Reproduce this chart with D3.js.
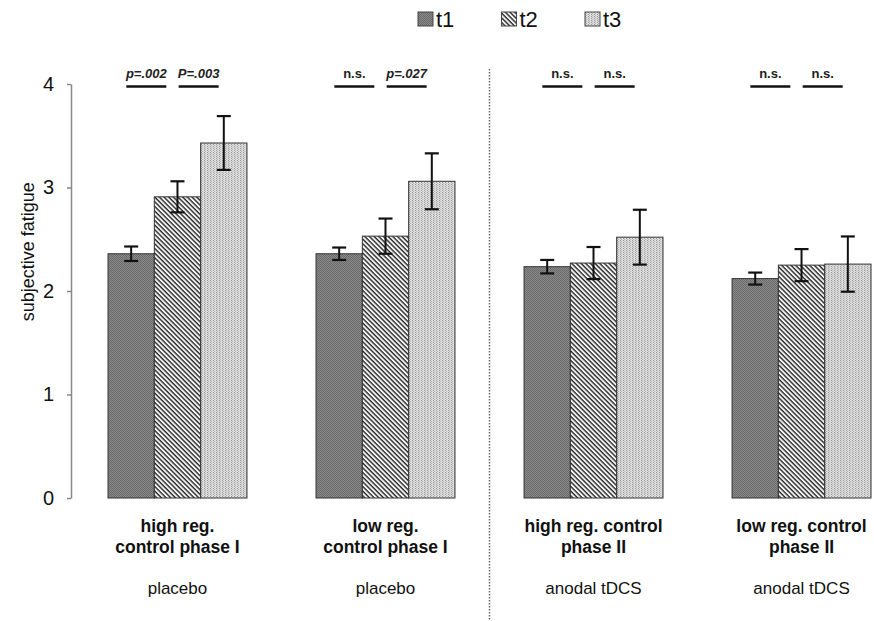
<!DOCTYPE html>
<html>
<head>
<meta charset="utf-8">
<script src="https://cdn.jsdelivr.net/npm/d3@7"></script>
<style>
  body { margin: 0; background: #fff; }
  text { font-family: "Liberation Sans", Arial, sans-serif; }
</style>
</head>
<body>
<script>
const groups = ["g1", "g2", "g3", "g4"];
const groupLines = [["high reg.", "control phase I"], ["low reg.", "control phase I"],
                    ["high reg. control", "phase II"], ["low reg. control", "phase II"]];
const conditions = ["placebo", "placebo", "anodal tDCS", "anodal tDCS"];
const times = ["t1", "t2", "t3"];
const means = [[2.36, 2.91, 3.43], [2.36, 2.53, 3.06], [2.235, 2.27, 2.52], [2.12, 2.25, 2.26]];
const errs = [[0.07, 0.15, 0.26], [0.06, 0.17, 0.27], [0.065, 0.155, 0.265], [0.058, 0.155, 0.267]];
const sigLabels = [["p=.002", "P=.003"], ["n.s.", "p=.027"], ["n.s.", "n.s."], ["n.s.", "n.s."]];
const yTicks = [0, 1, 2, 3, 4];

function main() {
  const width = 874, height = 621;
  const svg = d3.select("body").append("svg")
    .attr("width", width).attr("height", height);

  const y = d3.scaleLinear().domain([0, 4]).range([498, 84]);
  const x0 = d3.scaleBand().domain(groups).range([108, 871]).paddingInner(0.332);
  const x1 = d3.scaleBand().domain(times).range([0, x0.bandwidth()]);

  // patterns
  const defs = svg.append("defs");
  const p1 = defs.append("pattern").attr("id", "pat-t1").attr("patternUnits", "userSpaceOnUse")
    .attr("width", 2).attr("height", 2);
  p1.append("rect").attr("width", 2).attr("height", 2).attr("fill", "#8a8a8a");
  p1.append("rect").attr("width", 1).attr("height", 1).attr("fill", "#6a6a6a");
  p1.append("rect").attr("x", 1).attr("y", 1).attr("width", 1).attr("height", 1).attr("fill", "#6a6a6a");

  const p2 = defs.append("pattern").attr("id", "pat-t2").attr("patternUnits", "userSpaceOnUse")
    .attr("width", 3.3).attr("height", 3.3).attr("patternTransform", "rotate(45)");
  p2.append("rect").attr("width", 3.3).attr("height", 3.3).attr("fill", "#f4f4f4");
  p2.append("rect").attr("width", 3.3).attr("height", 1.4).attr("fill", "#2a2a2a");

  const p3 = defs.append("pattern").attr("id", "pat-t3").attr("patternUnits", "userSpaceOnUse")
    .attr("width", 3).attr("height", 2);
  p3.append("rect").attr("width", 3).attr("height", 2).attr("fill", "#dcdcdc");
  p3.append("rect").attr("width", 1).attr("height", 1).attr("fill", "#9a9a9a");
  p3.append("rect").attr("x", 1).attr("y", 1).attr("width", 1).attr("height", 1).attr("fill", "#b8b8b8");

  const fills = {t1: "url(#pat-t1)", t2: "url(#pat-t2)", t3: "url(#pat-t3)"};

  // y axis
  const yAxis = svg.append("g").attr("transform", "translate(71,0)")
    .call(d3.axisLeft(y).tickValues(yTicks).tickFormat(d3.format("d"))
      .tickSize(4).tickSizeOuter(0).tickPadding(13));
  yAxis.select(".domain").attr("stroke", "#888").attr("stroke-width", 1.5);
  yAxis.selectAll(".tick line").attr("stroke", "#888").attr("stroke-width", 1.5);
  yAxis.selectAll(".tick text").attr("font-size", 20).attr("fill", "#111")
    .attr("font-family", "'Liberation Sans', Arial, sans-serif");

  svg.append("text")
    .attr("transform", "translate(28," + y(2.38) + ") rotate(-90)")
    .attr("text-anchor", "middle").attr("dy", "0.35em")
    .attr("font-size", 18).attr("fill", "#111")
    .text("subjective fatigue");

  // bars
  const g = svg.append("g").selectAll("g").data(groups).join("g")
    .attr("transform", d => "translate(" + x0(d) + ",0)");

  g.selectAll("rect").data((d, i) => times.map((t, j) => ({t, v: means[i][j], e: errs[i][j]})))
    .join("rect")
    .attr("x", d => x1(d.t))
    .attr("y", d => y(d.v))
    .attr("width", x1.bandwidth())
    .attr("height", d => y(0) - y(d.v))
    .attr("fill", d => fills[d.t])
    .attr("stroke", "#333").attr("stroke-width", 1);

  // error bars
  const eb = g.selectAll("g.err").data((d, i) => times.map((t, j) => ({t, v: means[i][j], e: errs[i][j]})))
    .join("g").attr("class", "err")
    .attr("transform", d => "translate(" + (x1(d.t) + x1.bandwidth() / 2) + ",0)");
  eb.append("line").attr("y1", d => y(d.v + d.e)).attr("y2", d => y(d.v - d.e))
    .attr("stroke", "#111").attr("stroke-width", 2);
  eb.selectAll("line.cap").data(d => [d.v + d.e, d.v - d.e]).join("line").attr("class", "cap")
    .attr("x1", -7).attr("x2", 7).attr("y1", d => y(d)).attr("y2", d => y(d))
    .attr("stroke", "#111").attr("stroke-width", 2.2);

  // significance annotations
  const sig = g.selectAll("g.sig").data((d, i) => sigLabels[i].map((s, k) => ({s, k})))
    .join("g").attr("class", "sig")
    .attr("transform", d => "translate(" + (x1(times[d.k + 1]) - 8 + d.k * 6) + ",0)");
  sig.append("line").attr("x1", -20).attr("x2", 20).attr("y1", 86.5).attr("y2", 86.5)
    .attr("stroke", "#111").attr("stroke-width", 2.5);
  sig.append("text").attr("x", 0).attr("y", 78).attr("text-anchor", "middle")
    .attr("font-size", 13).attr("font-weight", "bold")
    .attr("font-style", d => d.s === "n.s." ? "normal" : "italic")
    .attr("fill", "#222").text(d => d.s);

  // category labels
  g.each(function(d, i) {
    const t = d3.select(this).append("text").attr("text-anchor", "middle")
      .attr("font-size", 17.5).attr("font-weight", "bold").attr("fill", "#111");
    groupLines[i].forEach((ln, k) => {
      t.append("tspan").attr("x", x0.bandwidth() / 2).attr("y", 532 + k * 21).text(ln);
    });
    d3.select(this).append("text").attr("x", x0.bandwidth() / 2).attr("y", 594)
      .attr("text-anchor", "middle").attr("font-size", 17).attr("fill", "#111")
      .text(conditions[i]);
  });

  // dotted separator
  const sepX = (x0("g2") + x0.bandwidth() + x0("g3")) / 2;
  svg.append("line").attr("x1", sepX).attr("x2", sepX).attr("y1", 69).attr("y2", height)
    .attr("stroke", "#666").attr("stroke-width", 1.5).attr("stroke-dasharray", "1.5,1.5");

  // legend
  const legX = d3.scalePoint().domain(times).range([418, 585]);
  const leg = svg.append("g").selectAll("g").data(times).join("g")
    .attr("transform", d => "translate(" + legX(d) + ",12)");
  leg.append("rect").attr("width", 15).attr("height", 14)
    .attr("fill", d => fills[d]).attr("stroke", "#444").attr("stroke-width", 1);
  leg.append("text").attr("x", 18).attr("y", 14.5).attr("font-size", 22).attr("fill", "#111")
    .text(d => d);
}

window.addEventListener("load", main);
</script>
</body>
</html>
